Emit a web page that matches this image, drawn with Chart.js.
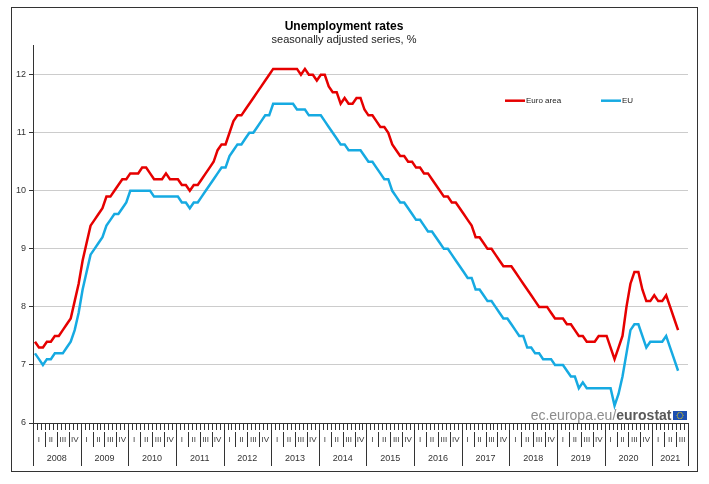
<!DOCTYPE html>
<html>
<head>
<meta charset="utf-8">
<script src="https://cdn.jsdelivr.net/npm/chart.js@4"></script>
<style>
html,body{margin:0;padding:0;background:#fff;width:709px;height:484px;overflow:hidden}
#frame{position:absolute;left:11px;top:7px;width:685px;height:463px;border:1px solid #333;}
#c{position:absolute;left:0;top:0}
</style>
</head>
<body>
<div id="frame"></div>
<canvas id="c" width="709" height="484"></canvas>
<script>
// ---- data ----
const years = ['2008','2009','2010','2011','2012','2013','2014','2015','2016','2017','2018','2019','2020','2021'];
const monthsInYear = [12,12,12,12,12,12,12,12,12,12,12,12,12,9];
const quarterLabels = ['I','II','III','IV'];
const yTicks = [6,7,8,9,10,11,12];
const seriesNames = ['Euro area','EU'];

const euroArea = [
  7.4,7.3,7.3,7.4,7.4,7.5,7.5,7.6,7.7,7.8,8.1,8.4,
  8.8,9.1,9.4,9.5,9.6,9.7,9.9,9.9,10.0,10.1,10.2,10.2,
  10.3,10.3,10.3,10.4,10.4,10.3,10.2,10.2,10.2,10.3,10.2,10.2,
  10.2,10.1,10.1,10.0,10.1,10.1,10.2,10.3,10.4,10.5,10.7,10.8,
  10.8,11.0,11.2,11.3,11.3,11.4,11.5,11.6,11.7,11.8,11.9,12.0,
  12.1,12.1,12.1,12.1,12.1,12.1,12.1,12.0,12.1,12.0,12.0,11.9,
  12.0,12.0,11.8,11.7,11.7,11.5,11.6,11.5,11.5,11.6,11.6,11.4,
  11.3,11.3,11.2,11.1,11.1,11.0,10.8,10.7,10.6,10.6,10.5,10.5,
  10.4,10.4,10.3,10.3,10.2,10.1,10.0,9.9,9.9,9.8,9.8,9.7,
  9.6,9.5,9.4,9.2,9.2,9.1,9.0,9.0,8.9,8.8,8.7,8.7,
  8.7,8.6,8.5,8.4,8.3,8.2,8.1,8.0,8.0,8.0,7.9,7.8,
  7.8,7.8,7.7,7.7,7.6,7.5,7.5,7.4,7.4,7.4,7.5,7.5,
  7.5,7.3,7.1,7.3,7.5,8.0,8.4,8.6,8.6,8.3,8.1,8.1,
  8.2,8.1,8.1,8.2,8.0,7.8,7.6
];
const eu = [
  7.2,7.1,7.0,7.1,7.1,7.2,7.2,7.2,7.3,7.4,7.6,7.9,
  8.3,8.6,8.9,9.0,9.1,9.2,9.4,9.5,9.6,9.6,9.7,9.8,
  10.0,10.0,10.0,10.0,10.0,10.0,9.9,9.9,9.9,9.9,9.9,9.9,
  9.9,9.8,9.8,9.7,9.8,9.8,9.9,10.0,10.1,10.2,10.3,10.4,
  10.4,10.6,10.7,10.8,10.8,10.9,11.0,11.0,11.1,11.2,11.3,11.3,
  11.5,11.5,11.5,11.5,11.5,11.5,11.4,11.4,11.4,11.3,11.3,11.3,
  11.3,11.2,11.1,11.0,10.9,10.8,10.8,10.7,10.7,10.7,10.7,10.6,
  10.5,10.5,10.4,10.3,10.2,10.2,10.0,9.9,9.8,9.8,9.7,9.6,
  9.5,9.5,9.4,9.3,9.3,9.2,9.1,9.0,9.0,8.9,8.8,8.7,
  8.6,8.5,8.5,8.3,8.3,8.2,8.1,8.1,8.0,7.9,7.8,7.8,
  7.7,7.6,7.5,7.5,7.3,7.3,7.2,7.2,7.1,7.1,7.1,7.0,
  7.0,7.0,6.9,6.8,6.8,6.6,6.7,6.6,6.6,6.6,6.6,6.6,
  6.6,6.6,6.3,6.5,6.8,7.2,7.6,7.7,7.7,7.5,7.3,7.4,
  7.4,7.4,7.4,7.5,7.3,7.1,6.9
];

// ---- month labels built from years ----
const monthLabels = [];
years.forEach((y, i) => {
  for (let m = 1; m <= monthsInYear[i]; m++) monthLabels.push(y + '-' + String(m).padStart(2, '0'));
});

const FONT = '"Liberation Sans", Arial, Helvetica, sans-serif';
const RED = 'rgb(230,0,0)';
const BLUE = 'rgb(22,170,226)';

// ---- x axis: months / quarters / years ----
const timeAxisPlugin = {
  id: 'timeAxis',
  afterDraw(chart) {
    const { ctx, chartArea: a } = chart;
    const xs = chart.scales.x;
    const n = xs.getLabels().length;
    const step = xs.getPixelForValue(1) - xs.getPixelForValue(0);
    const edge = i => (i < n ? xs.getPixelForValue(i) - step / 2 : xs.getPixelForValue(n - 1) + step / 2);
    const b = a.bottom;
    ctx.save();
    ctx.strokeStyle = '#333';
    ctx.lineWidth = 1;
    ctx.beginPath();
    for (let i = 0; i <= n; i++) {
      const x = Math.round(edge(i)) + 0.5;
      ctx.moveTo(x, b); ctx.lineTo(x, b + 7);
    }
    ctx.stroke();
    ctx.fillStyle = '#333';
    ctx.textAlign = 'center';
    ctx.textBaseline = 'middle';
    let idx = 0;
    years.forEach((y, yi) => {
      const start = idx;
      const cnt = monthsInYear[yi];
      for (let q = 0; q * 3 < cnt; q++) {
        const qs = start + q * 3, qe = Math.min(start + q * 3 + 3, start + cnt);
        const x0 = edge(qs), x1 = edge(qe);
        if (q > 0) {
          const xx = Math.round(x0) + 0.5;
          ctx.beginPath(); ctx.moveTo(xx, b + 9); ctx.lineTo(xx, b + 24); ctx.stroke();
        }
        ctx.font = '8px ' + FONT;
        ctx.fillText(quarterLabels[q], (x0 + x1) / 2, b + 17);
      }
      const xa = Math.round(edge(start)) + 0.5;
      ctx.beginPath(); ctx.moveTo(xa, b); ctx.lineTo(xa, b + 43); ctx.stroke();
      ctx.font = '9px ' + FONT;
      ctx.fillText(y, (edge(start) + edge(start + cnt)) / 2, b + 36);
      idx += cnt;
    });
    const xe = Math.round(edge(n)) + 0.5;
    ctx.beginPath(); ctx.moveTo(xe, b); ctx.lineTo(xe, b + 43); ctx.stroke();
    ctx.restore();
  }
};

// ---- legend inside plot + source mark ----
const decorPlugin = {
  id: 'decor',
  afterDraw(chart) {
    const { ctx, chartArea: a } = chart;
    ctx.save();
    const ly = a.top + 55;
    const items = [{ dx: 472, tx: 493 }, { dx: 568, tx: 589 }];
    chart.data.datasets.forEach((ds, i) => {
      const it = items[i];
      ctx.strokeStyle = ds.borderColor;
      ctx.lineWidth = 2.5;
      ctx.beginPath();
      ctx.moveTo(a.left + it.dx, ly); ctx.lineTo(a.left + it.dx + 20, ly);
      ctx.stroke();
      ctx.fillStyle = '#222';
      ctx.font = '8px ' + FONT;
      ctx.textBaseline = 'middle';
      ctx.textAlign = 'left';
      ctx.fillText(ds.label, a.left + it.tx, ly);
    });
    const by = a.bottom - 3;
    const flagW = 14, flagH = 9;
    const fx = a.right - 1 - flagW;
    ctx.textBaseline = 'alphabetic';
    ctx.textAlign = 'right';
    ctx.font = 'bold 14px ' + FONT;
    ctx.fillStyle = '#595959';
    const t2 = 'eurostat';
    const w2 = ctx.measureText(t2).width;
    ctx.fillText(t2, fx - 1.5, by);
    ctx.font = '14px ' + FONT;
    ctx.fillStyle = '#8c8c8c';
    ctx.fillText('ec.europa.eu/', fx - 1.5 - w2, by);
    ctx.fillStyle = '#1d4fb0';
    ctx.fillRect(fx, by - flagH, flagW, flagH);
    ctx.fillStyle = '#f5d800';
    const cx = fx + flagW / 2, cy = by - flagH / 2;
    for (let k = 0; k < 12; k++) {
      const ang = k * Math.PI / 6;
      ctx.fillRect(cx + Math.cos(ang) * 3 - 0.4, cy + Math.sin(ang) * 3 - 0.4, 0.9, 0.9);
    }
    ctx.restore();
  }
};

new Chart(document.getElementById('c'), {
  type: 'line',
  data: {
    labels: monthLabels,
    datasets: [
      { label: seriesNames[0], data: euroArea, borderColor: RED, backgroundColor: RED, borderWidth: 2.5, pointRadius: 0, tension: 0, fill: false },
      { label: seriesNames[1], data: eu, borderColor: BLUE, backgroundColor: BLUE, borderWidth: 2.5, pointRadius: 0, tension: 0, fill: false }
    ]
  },
  options: {
    responsive: false,
    animation: false,
    devicePixelRatio: 1,
    layout: { padding: { left: 0, right: 21, top: 0, bottom: 11 } },
    plugins: {
      legend: { display: false },
      tooltip: { enabled: false },
      title: {
        display: true,
        text: 'Unemployment rates',
        color: '#000',
        font: { family: FONT, size: 12, weight: 'bold', lineHeight: 1.1 },
        padding: { top: 20, bottom: 0 }
      },
      subtitle: {
        display: true,
        text: 'seasonally adjusted series, %',
        color: '#222',
        font: { family: FONT, size: 11, lineHeight: 1.0 },
        padding: { top: 1.5, bottom: 0 }
      }
    },
    scales: {
      x: {
        type: 'category',
        offset: true,
        grid: { display: false, drawTicks: false },
        border: { display: true, color: '#333', width: 1 },
        ticks: { display: false },
        afterFit(s) { s.height = 50; }
      },
      y: {
        min: 6,
        max: 12.5,
        afterBuildTicks(s) { s.ticks = yTicks.map(v => ({ value: v })); },
        grid: { color: '#cccccc', lineWidth: 1, tickColor: '#333', tickLength: 4, drawTicks: true },
        border: { display: true, color: '#333', width: 1 },
        ticks: { color: '#333', font: { family: FONT, size: 9 }, padding: 3 },
        afterFit(s) { s.width = 33; }
      }
    }
  },
  plugins: [timeAxisPlugin, decorPlugin]
});
</script>
</body>
</html>
